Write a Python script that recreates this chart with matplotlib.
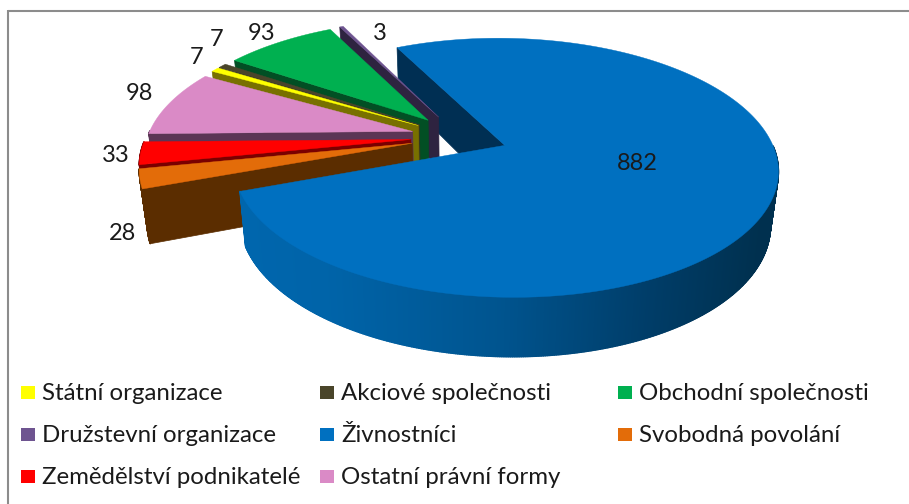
import numpy as np
import matplotlib
matplotlib.use("Agg")
import matplotlib.pyplot as plt
from matplotlib.patches import Polygon, Rectangle
from matplotlib.collections import PolyCollection

categories = ["Státní organizace", "Akciové společnosti", "Obchodní společnosti",
              "Družstevní organizace", "Živnostníci", "Svobodná povolání",
              "Zemědělství podnikatelé", "Ostatní právní formy"]
values = [7, 7, 93, 3, 882, 28, 33, 98]

top_colors = ["#FFFF00", "#4A452A", "#00B050", "#6E5490", "#0070C0", "#E36C09", "#FF0000", "#DA8AC6"]
wall_colors = ["#787000", "#3A3520", "#024F24", "#2E2340", "#002F53", "#5B2D00", "#7A0000", "#5B3555"]
label_xy = [(197, 57), (217, 39), (262, 34), (380, 33), (637, 163), (122, 233), (116, 156), (139, 93)]
legend_xy = [(21, 393), (320, 393), (618, 393), (21, 435), (320, 435), (618, 435), (21, 477), (320, 477)]

Cx, Cy, R, A, K = 460.0, 137.0, 265.0, 122.8, 0.171
EXPLODE = 0.18
START = 299.6

def proj(u, v):
    s = 1 / (1 + K * v)
    return Cx + R * u * s, Cy - A * v * s

def drop(x, y, v):
    return Cx + (x - Cx) * 0.975, y + 52 - 7 * v

fig = plt.figure(figsize=(9.09, 5.04), dpi=100)
ax = fig.add_axes([0, 0, 1, 1])
ax.set_xlim(0, 909)
ax.set_ylim(504, 0)
ax.axis("off")
plt.rcParams["font.family"] = ["Lato", "DejaVu Sans"]

edges = START + 360 * np.concatenate([[0], np.cumsum(values)]) / sum(values)

def geometry(i):
    t0, t1 = np.radians(edges[i]), np.radians(edges[i + 1])
    mid = (t0 + t1) / 2
    # slices other than the large one are pulled slightly further out on the left
    e = EXPLODE if i == 4 else EXPLODE + 0.006
    u0, v0 = e * np.sin(mid), e * np.cos(mid)
    t = np.linspace(t0, t1, max(4, int((edges[i + 1] - edges[i]) * 3)))
    return u0, v0, u0 + np.sin(t), v0 + np.cos(t), t

def start_wall(i, z):
    u0, v0, us, vs, _ = geometry(i)
    xa, ya = proj(u0, v0)
    xb, yb = proj(us[0], vs[0])
    xa2, ya2 = drop(xa, ya, v0)
    xb2, yb2 = drop(xb, yb, vs[0])
    ax.add_patch(Polygon([(xa, ya), (xb, yb), (xb2, yb2), (xa2, ya2)], closed=True,
                         fc=wall_colors[i], ec=wall_colors[i], lw=0.5, zorder=z))

def outer_wall(i, z):
    u0, v0, us, vs, t = geometry(i)
    xs, ys = proj(us, vs)
    x2, y2 = drop(xs, ys, vs)
    front = np.cos(t[:-1]) < 0
    quads = [[(xs[j], ys[j]), (xs[j + 1], ys[j + 1]), (x2[j + 1], y2[j + 1]), (x2[j], y2[j])]
             for j in range(len(xs) - 1) if front[j]]
    if not quads:
        return
    if i == 4:
        xm = ((xs[:-1] + xs[1:]) / 2)[front]
        stops = np.array([240, 330, 500, 650, 760, 790])
        g = np.interp(xm, stops, [0.40, 0.39, 0.33, 0.24, 0.19, 0.19])
        b = np.interp(xm, stops, [0.68, 0.66, 0.56, 0.41, 0.31, 0.31])
        cols = [(0.0, gg, bb) for gg, bb in zip(g, b)]
    else:
        cols = [wall_colors[i]] * len(quads)
    ax.add_collection(PolyCollection(quads, facecolors=cols, edgecolors=cols, linewidths=1.0, zorder=z))

def top_face(i, z):
    u0, v0, us, vs, _ = geometry(i)
    xa, ya = proj(u0, v0)
    xs, ys = proj(us, vs)
    pts = [(xa, ya)] + list(zip(xs, ys))
    ax.add_patch(Polygon(pts, closed=True, fc=top_colors[i], ec=top_colors[i], lw=0.3, zorder=z))

start_wall(4, 1)
z = 2
for i in [3, 2, 1, 0, 7, 6, 5, 4]:
    if i != 4:
        start_wall(i, z)
    outer_wall(i, z)
    top_face(i, z + 1)
    z += 2

for v, (x, y) in zip(values, label_xy):
    ax.text(x, y, str(v), fontsize=17, color="#1a1a1a", ha="center", va="center", zorder=30)

for name, col, (x, y) in zip(categories, top_colors, legend_xy):
    ax.add_patch(Rectangle((x, y - 7), 14, 13, fc=col, ec="none", zorder=30))
    ax.text(x + 21, y, name, fontsize=17.3, color="#1a1a1a", ha="left", va="center", zorder=30)

ax.plot([8, 909], [10.5, 10.5], color="#8c8c8c", lw=1.5, zorder=40, solid_capstyle="butt")
ax.plot([8, 8], [10, 504], color="#8c8c8c", lw=1.5, zorder=40, solid_capstyle="butt")

fig.savefig("out.png", dpi=100, facecolor="white")
